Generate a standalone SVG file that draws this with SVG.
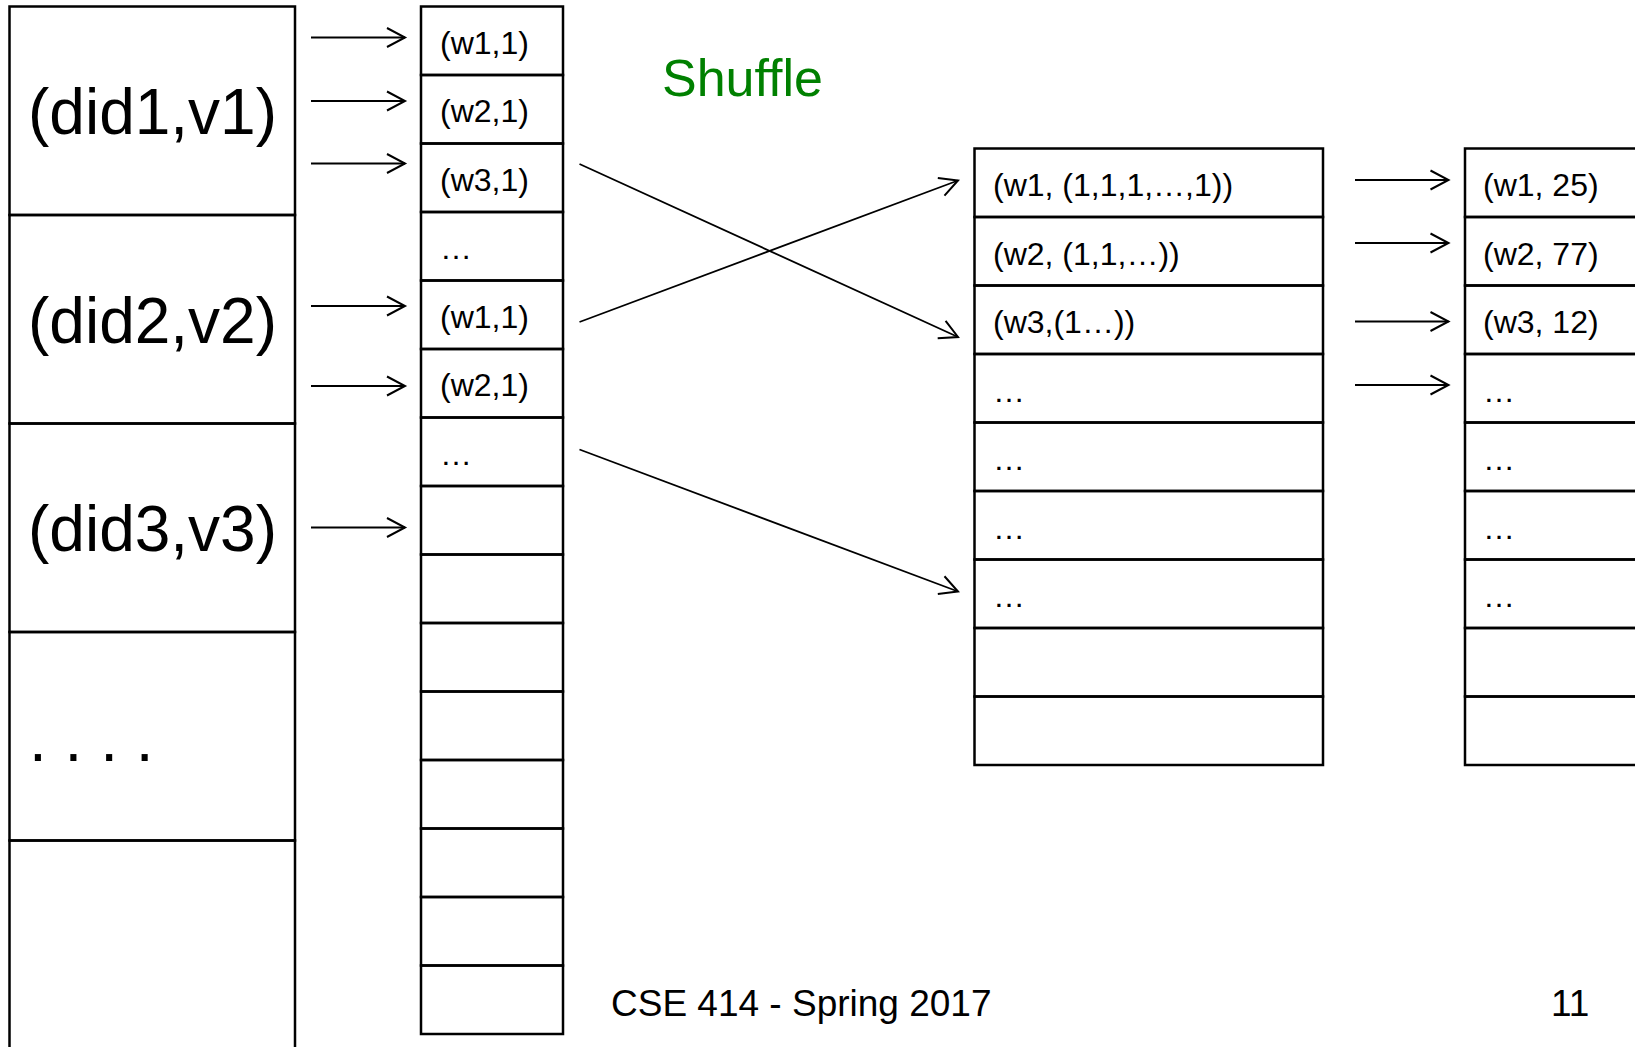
<svg xmlns="http://www.w3.org/2000/svg" width="1635" height="1047" viewBox="0 0 1635 1047">
<style>
.cell{fill:none;stroke:#000;stroke-width:2.5}
.t{font-family:"Liberation Sans",Arial,sans-serif;fill:#000}
.big{font-size:64px}
.sm{font-size:32px}
.conn line{stroke:#000;stroke-width:1.8;fill:none;marker-end:url(#arr)}
</style>
<defs>
<marker id="arr" markerUnits="userSpaceOnUse" markerWidth="24" markerHeight="24" refX="20" refY="12" orient="auto" overflow="visible">
<path d="M2,2.5 L20,12 L2,21.5" fill="none" stroke="#000" stroke-width="2"/>
</marker>
</defs>
<rect width="1635" height="1047" fill="#fff"/>

<g id="input">
<g id="in1"><rect class="cell" x="9.5" y="6.5" width="285.5" height="208.5"/><text class="t big" x="28" y="134">(did1,v1)</text></g>
<g id="in2"><rect class="cell" x="9.5" y="215" width="285.5" height="208.5"/><text class="t big" x="28" y="342.5">(did2,v2)</text></g>
<g id="in3"><rect class="cell" x="9.5" y="423.5" width="285.5" height="208.5"/><text class="t big" x="28" y="551">(did3,v3)</text></g>
<g id="in4"><rect class="cell" x="9.5" y="632" width="285.5" height="208.5"/><text class="t big" x="29" y="761">. . . .</text></g>
<g id="in5"><rect class="cell" x="9.5" y="840.5" width="285.5" height="230"/></g>
</g>

<g id="map">
<g id="m0"><rect class="cell" x="421" y="6.5" width="142" height="68.5"/><text class="t sm" x="440" y="53.8">(w1,1)</text></g>
<g id="m1"><rect class="cell" x="421" y="75" width="142" height="68.5"/><text class="t sm" x="440" y="122.3">(w2,1)</text></g>
<g id="m2"><rect class="cell" x="421" y="143.5" width="142" height="68.5"/><text class="t sm" x="440" y="190.8">(w3,1)</text></g>
<g id="m3"><rect class="cell" x="421" y="212" width="142" height="68.5"/><text class="t sm" x="440" y="259.3">…</text></g>
<g id="m4"><rect class="cell" x="421" y="280.5" width="142" height="68.5"/><text class="t sm" x="440" y="327.8">(w1,1)</text></g>
<g id="m5"><rect class="cell" x="421" y="349" width="142" height="68.5"/><text class="t sm" x="440" y="396.3">(w2,1)</text></g>
<g id="m6"><rect class="cell" x="421" y="417.5" width="142" height="68.5"/><text class="t sm" x="440" y="464.8">…</text></g>
<g id="m7"><rect class="cell" x="421" y="486" width="142" height="68.5"/></g>
<g id="m8"><rect class="cell" x="421" y="554.5" width="142" height="68.5"/></g>
<g id="m9"><rect class="cell" x="421" y="623" width="142" height="68.5"/></g>
<g id="m10"><rect class="cell" x="421" y="691.5" width="142" height="68.5"/></g>
<g id="m11"><rect class="cell" x="421" y="760" width="142" height="68.5"/></g>
<g id="m12"><rect class="cell" x="421" y="828.5" width="142" height="68.5"/></g>
<g id="m13"><rect class="cell" x="421" y="897" width="142" height="68.5"/></g>
<g id="m14"><rect class="cell" x="421" y="965.5" width="142" height="68.5"/></g>
</g>

<g id="group">
<g id="g0"><rect class="cell" x="974.5" y="148.5" width="348.5" height="68.5"/><text class="t sm" x="993" y="196">(w1, (1,1,1,…,1))</text></g>
<g id="g1"><rect class="cell" x="974.5" y="217" width="348.5" height="68.5"/><text class="t sm" x="993" y="264.5">(w2, (1,1,…))</text></g>
<g id="g2"><rect class="cell" x="974.5" y="285.5" width="348.5" height="68.5"/><text class="t sm" x="993" y="333">(w3,(1…))</text></g>
<g id="g3"><rect class="cell" x="974.5" y="354" width="348.5" height="68.5"/><text class="t sm" x="993" y="401.5">…</text></g>
<g id="g4"><rect class="cell" x="974.5" y="422.5" width="348.5" height="68.5"/><text class="t sm" x="993" y="470">…</text></g>
<g id="g5"><rect class="cell" x="974.5" y="491" width="348.5" height="68.5"/><text class="t sm" x="993" y="538.5">…</text></g>
<g id="g6"><rect class="cell" x="974.5" y="559.5" width="348.5" height="68.5"/><text class="t sm" x="993" y="607">…</text></g>
<g id="g7"><rect class="cell" x="974.5" y="628" width="348.5" height="68.5"/></g>
<g id="g8"><rect class="cell" x="974.5" y="696.5" width="348.5" height="68.5"/></g>
</g>

<g id="reduce">
<g id="r0"><rect class="cell" x="1465" y="148.5" width="240" height="68.5"/><text class="t sm" x="1483" y="196">(w1, 25)</text></g>
<g id="r1"><rect class="cell" x="1465" y="217" width="240" height="68.5"/><text class="t sm" x="1483" y="264.5">(w2, 77)</text></g>
<g id="r2"><rect class="cell" x="1465" y="285.5" width="240" height="68.5"/><text class="t sm" x="1483" y="333">(w3, 12)</text></g>
<g id="r3"><rect class="cell" x="1465" y="354" width="240" height="68.5"/><text class="t sm" x="1483" y="401.5">…</text></g>
<g id="r4"><rect class="cell" x="1465" y="422.5" width="240" height="68.5"/><text class="t sm" x="1483" y="470">…</text></g>
<g id="r5"><rect class="cell" x="1465" y="491" width="240" height="68.5"/><text class="t sm" x="1483" y="538.5">…</text></g>
<g id="r6"><rect class="cell" x="1465" y="559.5" width="240" height="68.5"/><text class="t sm" x="1483" y="607">…</text></g>
<g id="r7"><rect class="cell" x="1465" y="628" width="240" height="68.5"/></g>
<g id="r8"><rect class="cell" x="1465" y="696.5" width="240" height="68.5"/></g>
</g>

<g id="connectors" class="conn">
<line x1="311" y1="37.5" x2="405" y2="37.5"/>
<line x1="311" y1="101" x2="405" y2="101"/>
<line x1="311" y1="163.5" x2="405" y2="163.5"/>
<line x1="311" y1="306" x2="405" y2="306"/>
<line x1="311" y1="386" x2="405" y2="386"/>
<line x1="311" y1="527.5" x2="405" y2="527.5"/>
<line x1="579.5" y1="164" x2="958" y2="337"/>
<line x1="579.5" y1="322" x2="958" y2="180.5"/>
<line x1="579.5" y1="449.5" x2="958" y2="591.5"/>
<line x1="1355" y1="180" x2="1448.5" y2="180"/>
<line x1="1355" y1="243" x2="1448.5" y2="243"/>
<line x1="1355" y1="321.5" x2="1448.5" y2="321.5"/>
<line x1="1355" y1="385" x2="1448.5" y2="385"/>
</g>

<g id="labels">
<text class="t" x="662" y="96" font-size="52" style="fill:#008000">Shuffle</text>
<text class="t" x="611" y="1016" font-size="37">CSE 414 - Spring 2017</text>
<text class="t" x="1551" y="1016" font-size="37">11</text>
</g>
</svg>
